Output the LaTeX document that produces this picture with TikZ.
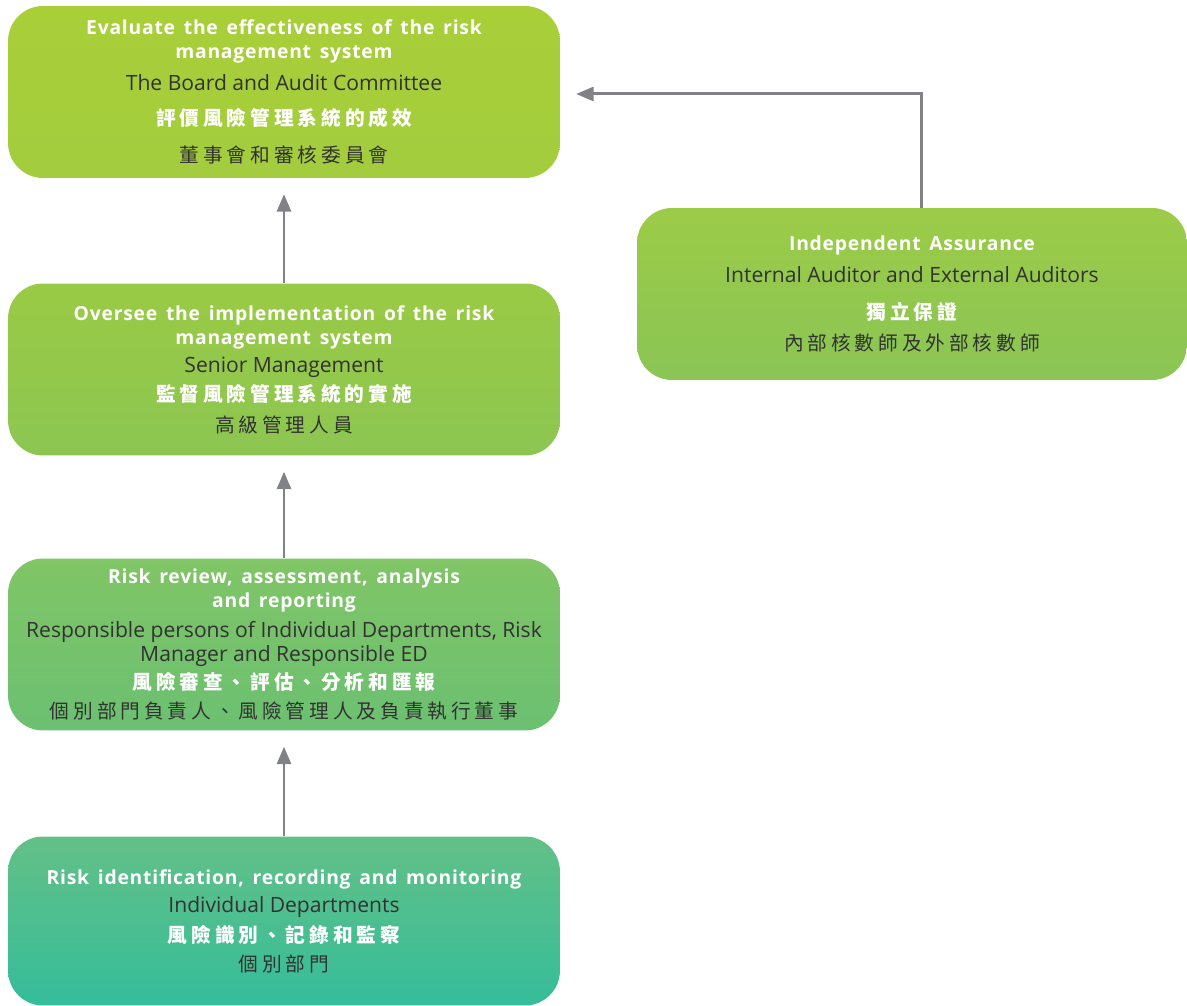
\documentclass[tikz,border=0pt]{standalone}
\usepackage{fontspec}
\setmainfont{Open Sans}[BoldFeatures={LetterSpace=4, WordSpace=1.5}]
\newfontfamily\cjk[LetterSpace=20]{Noto Sans CJK TC}
\usepackage{tikz}
\usetikzlibrary{arrows.meta, positioning}
\definecolor{cText}{RGB}{50,50,50}
\definecolor{cArrow}{RGB}{128,130,133}
\definecolor{cEvalTop}{RGB}{169,207,56}
\definecolor{cEvalBot}{RGB}{163,205,62}
\definecolor{cSeeTop}{RGB}{154,202,69}
\definecolor{cSeeBot}{RGB}{140,198,81}
\definecolor{cRevTop}{RGB}{128,197,102}
\definecolor{cRevBot}{RGB}{107,192,113}
\definecolor{cIdTop}{RGB}{99,192,135}
\definecolor{cIdBot}{RGB}{53,189,154}
\definecolor{cAsrTop}{RGB}{156,203,71}
\definecolor{cAsrBot}{RGB}{138,197,85}
\tikzset{
	stage/.style={rectangle, rounded corners=0.7cm, minimum width=11.04cm, minimum height=3.44cm, inner sep=0pt, align=center, text=cText, font=\fontsize{11}{13.66}\selectfont},
	uparrow/.style={draw=cArrow, line width=1.7pt, -{Triangle[length=10pt, width=8pt]}, shorten >=9pt},
}
\newcommand{\ttl}[1]{{\bfseries\color{white}#1}}
\newcommand{\who}[1]{{\fontsize{12}{13.66}\selectfont #1}}
\newcommand{\zhttl}[1]{{\fontsize{11.2}{13.66}\selectfont\cjk\bfseries\color{white}#1}}
\newcommand{\zhwho}[1]{{\fontsize{11.2}{13.66}\selectfont\cjk #1}}

\begin{document}
\begin{tikzpicture}[x=0.02cm, y=-0.02cm]
	\useasboundingbox (0,0) rectangle (1187,1006);
	% stages, top to bottom
	\node[stage, top color=cEvalTop, bottom color=cEvalBot] (evaluate) at (284,92)
		{\ttl{Evaluate the effectiveness of the risk}\\ \ttl{management system}\\[4.6pt]
		 \who{The Board and Audit Committee}\\[6.3pt] \zhttl{評價風險管理系統的成效}\\[7.4pt] \zhwho{董事會和審核委員會}};
	\node[stage, top color=cSeeTop, bottom color=cSeeBot] (oversee) at (284,369.5)
		{\ttl{Oversee the implementation of the risk}\\ \ttl{management system}\\[2.3pt]
		 \who{Senior Management}\\[2.8pt] \zhttl{監督風險管理系統的實施}\\[4pt] \zhwho{高級管理人員}};
	\node[stage, top color=cRevTop, bottom color=cRevBot] (review) at (284,644.5)
		{\ttl{Risk review, assessment, analysis}\\ \ttl{and reporting}\\[3.4pt]
		 \who{Responsible persons of Individual Departments, Risk}\\ \who{Manager and Responsible ED}\\[2.3pt]
		 \zhttl{風險審查、評估、分析和匯報}\\[2.8pt] \zhwho{個別部門負責人、風險管理人及負責執行董事}};
	\node[stage, top color=cIdTop, bottom color=cIdBot, minimum height=3.38cm] (identify) at (284,921)
		{\ttl{Risk identification, recording and monitoring}\\[2.3pt] \who{Individual Departments}\\[3.4pt]
		 \zhttl{風險識別、記錄和監察}\\[2.8pt] \zhwho{個別部門}};
	% independent assurance
	\node[stage, top color=cAsrTop, bottom color=cAsrBot, minimum width=11cm] (assure) at (912,294)
		{\ttl{Independent Assurance}\\[4.6pt] \who{Internal Auditor and External Auditors}\\[7.4pt]
		 \zhttl{獨立保證}\\[4pt] \zhwho{內部核數師及外部核數師}};
	% connectors
	\draw[uparrow] (identify.north) -- (review.south);
	\draw[uparrow] (review.north) -- (oversee.south);
	\draw[uparrow] (oversee.north) -- (evaluate.south);
	\draw[uparrow] ([xshift=0.18cm]assure.north) |- ([yshift=-0.04cm]evaluate.east);
\end{tikzpicture}
\end{document}
